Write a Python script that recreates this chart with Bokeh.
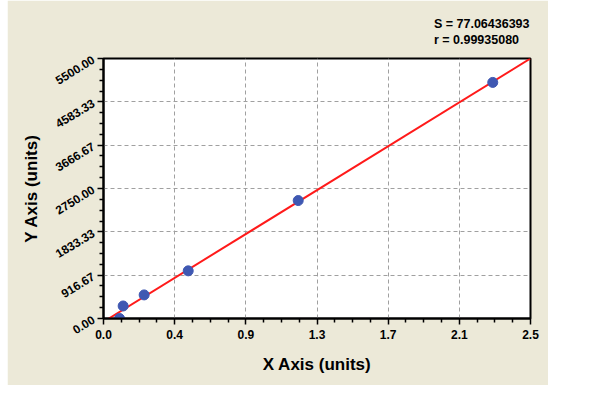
from bokeh.plotting import figure
from bokeh.models import FixedTicker, Range1d, Title
from bokeh.embed import file_html
from bokeh.resources import INLINE

# ---- data ----
x_vals = [0.094, 0.115, 0.238, 0.496, 1.140, 2.279]
y_vals = [0.0, 265.0, 499.0, 1008.0, 2495.0, 4994.0]
fit_x = [0.031, 2.5]
fit_y = [0.0, 5500.0]

x_ticks = [0.0, 0.41667, 0.83333, 1.25, 1.66667, 2.08333, 2.5]
x_tick_labels = ["0.0", "0.4", "0.9", "1.3", "1.7", "2.1", "2.5"]
y_ticks = [0.0, 916.67, 1833.33, 2750.0, 3666.67, 4583.33, 5500.0]
y_tick_labels = ["0.00", "916.67", "1833.33", "2750.00", "3666.67", "4583.33", "5500.00"]
stat_lines = ["S = 77.06436393", "r = 0.99935080"]

BEIGE = "#ECE9D8"
FONT = "Liberation Sans"

p = figure(width=541, height=385, output_backend="svg", toolbar_location=None,
           x_range=Range1d(0, 2.5), y_range=Range1d(0, 5500),
           min_border_left=96, min_border_right=18, min_border_top=58, min_border_bottom=67)
p.margin = (0, 52, 10, 7)
p.border_fill_color = BEIGE
p.background_fill_color = "white"
p.outline_line_color = "black"
p.outline_line_width = 2

def minors(ticks, n):
    out = []
    for a, b in zip(ticks[:-1], ticks[1:]):
        for k in range(1, n):
            out.append(a + (b - a) * k / n)
    return out

p.xaxis.ticker = FixedTicker(ticks=x_ticks, minor_ticks=minors(x_ticks, 4))
p.yaxis.ticker = FixedTicker(ticks=y_ticks, minor_ticks=minors(y_ticks, 4))
p.xaxis.major_label_overrides = {t: l for t, l in zip(x_ticks, x_tick_labels)}
p.yaxis.major_label_overrides = {t: l for t, l in zip(y_ticks, y_tick_labels)}

for ax in (p.xaxis, p.yaxis):
    ax.axis_line_color = "black"
    ax.axis_line_width = 2
    ax.major_tick_line_color = "black"
    ax.major_tick_line_width = 1.5
    ax.minor_tick_line_color = "black"
    ax.minor_tick_line_width = 1.5
    ax.major_tick_out = 6
    ax.major_tick_in = 0
    ax.minor_tick_out = 4
    ax.minor_tick_in = 0
    ax.major_label_text_font = FONT
    ax.major_label_text_font_style = "bold"
    ax.major_label_text_font_size = "12px"
    ax.major_label_text_color = "black"
    ax.axis_label_text_font = FONT
    ax.axis_label_text_font_style = "bold"
    ax.axis_label_text_font_size = "17px"
    ax.axis_label_text_color = "black"

p.xaxis.axis_label = "X Axis (units)"
p.yaxis.axis_label = "Y Axis (units)"
p.xaxis.major_label_standoff = 5
p.xaxis.axis_label_standoff = 13
p.yaxis.major_label_orientation = 0.55
p.yaxis.major_label_standoff = 4
p.yaxis.axis_label_standoff = 8

for g in (p.xgrid, p.ygrid):
    g.grid_line_color = "#A0A0A0"
    g.grid_line_dash = "4 3"
    g.grid_line_width = 1
p.xgrid.ticker = FixedTicker(ticks=x_ticks[1:-1])
p.ygrid.ticker = FixedTicker(ticks=y_ticks[1:-1])

p.line(fit_x, fit_y, line_color="#FF1A1A", line_width=2)
p.scatter(x_vals, y_vals, size=10, fill_color="#3F58B2", line_color="#3F58B2")

# statistics text, right-aligned above the frame (two lines)
p.title.text = "\n".join(stat_lines)
p.title.align = "right"
p.title.text_font = FONT
p.title.text_font_style = "bold"
p.title.text_font_size = "12.5px"
p.title.text_color = "black"
p.title.text_line_height = 1.15
p.title.standoff = 5
p.title.offset = 1
# spacer between frame and statistics text
p.add_layout(Title(text=" ", text_font_size="1px", standoff=6), "above")

open("out.html", "w").write(file_html(p, INLINE))
